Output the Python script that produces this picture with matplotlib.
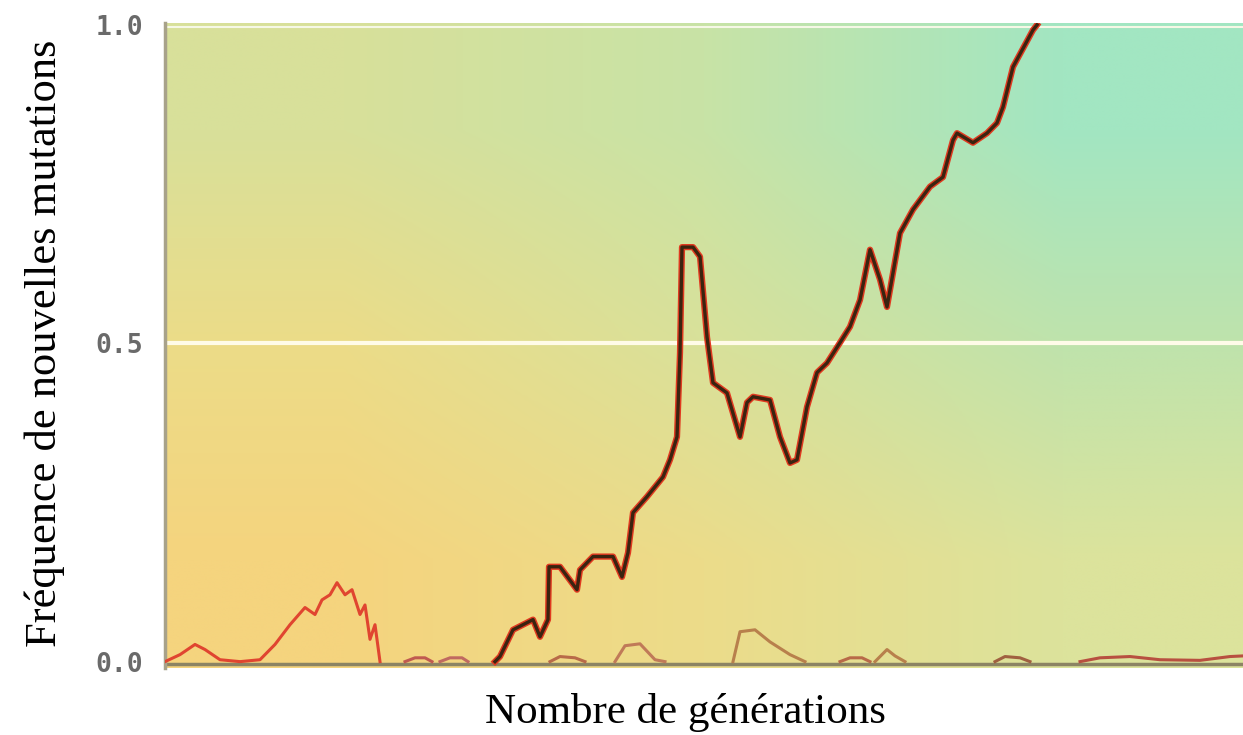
import numpy as np
import matplotlib.pyplot as plt
from matplotlib.colors import to_rgb

# Trajectoire qui se fixe (générations, fréquence)
gen_fix = [165, 167.5, 174, 184, 187.5, 191.5, 192, 197.5, 206, 207.5, 214, 224, 228.5, 231.5,
           234, 241, 249, 252.5, 256, 257.5, 258.5, 264, 267.5, 271, 274, 281, 287.5, 291, 294,
           302.5, 307.5, 312.5, 316, 321, 326, 331, 337.5, 342.5, 347.5, 352.5, 357.5, 361,
           367.5, 374, 382.5, 389, 394, 396, 404, 411, 416, 419, 424, 434, 436]
freq_fix = [0.0, 0.008, 0.050, 0.066, 0.039, 0.066, 0.149, 0.149, 0.113, 0.144, 0.165, 0.165,
            0.133, 0.171, 0.234, 0.259, 0.290, 0.317, 0.353, 0.485, 0.651, 0.651, 0.636, 0.510,
            0.438, 0.422, 0.353, 0.407, 0.416, 0.411, 0.353, 0.312, 0.317, 0.400, 0.454, 0.469,
            0.501, 0.526, 0.568, 0.647, 0.600, 0.557, 0.673, 0.710, 0.746, 0.761, 0.819, 0.830,
            0.815, 0.830, 0.846, 0.871, 0.934, 0.992, 1.0]

# Mutations perdues
gen_lost_a = [0, 7.5, 15, 20, 27.5, 37.5, 47.5, 55, 62.5, 70, 75, 78.5, 82.5, 86, 90, 93.5,
              97.5, 100, 102.5, 105, 107.5]
freq_lost_a = [0, 0.011, 0.027, 0.019, 0.003, 0, 0.003, 0.027, 0.058, 0.085, 0.074, 0.097,
               0.105, 0.124, 0.105, 0.113, 0.074, 0.089, 0.035, 0.058, 0]

gen_lost = [
    [120, 125, 130, 133.5],
    [137.5, 142.5, 148.5, 151.5],
    [192.5, 197.5, 205, 210],
    [225, 230, 237.5, 245, 250],
    [284, 287.5, 295, 302.5, 312.5, 320],
    [337.5, 342.5, 348.5, 352.5],
    [355, 361, 365, 370],
    [415, 420, 427.5, 432.5],
    [457.5, 467.5, 482.5, 497.5, 517.5, 532.5, 539],
]
freq_lost = [
    [0, 0.006, 0.006, 0],
    [0, 0.006, 0.006, 0],
    [0, 0.008, 0.006, 0],
    [0, 0.025, 0.028, 0.003, 0],
    [0, 0.047, 0.050, 0.031, 0.011, 0],
    [0, 0.006, 0.006, 0],
    [0, 0.019, 0.009, 0],
    [0, 0.008, 0.006, 0],
    [0, 0.006, 0.008, 0.003, 0.002, 0.008, 0.009],
]
lost_colors = ["#c05a50", "#c06a60", "#b86a48", "#c07a58", "#b8804c",
               "#b86a48", "#b8804c", "#a06040", "#b85040"]

y_ticks = [0.0, 0.5, 1.0]
y_ticklabels = ["0.0", "0.5", "1.0"]

fig = plt.figure(figsize=(12.43, 7.35), dpi=100)
ax = fig.add_axes([165 / 1243, 67 / 735, 1 - 165 / 1243, 645 / 735])

xmin, xmax = 0, 539
ymin, ymax = -0.01, 1.003

# fond en dégradé
grid = [["#d8e09a", "#c8e3a6", "#a2e6c2"],
        ["#ecdc88", "#d9e19a", "#bfe3ac"],
        ["#f5d47e", "#ecdc8a", "#dce39c"]]
img = np.array([[to_rgb(c) for c in row] for row in grid])
ax.imshow(img, extent=[xmin, xmax, ymin, ymax], aspect="auto",
          interpolation="bilinear", zorder=0)

ax.axhline(0.5, color="#fffbe8", lw=3, zorder=1)
ax.axhline(0.997, color="#f6f8e6", lw=1.5, zorder=1)
ax.axhline(-0.003, color="#8c8464", lw=2.5, zorder=2)

ax.plot(gen_lost_a, freq_lost_a, color="#e04530", lw=2.2, zorder=3)
for g, f, c in zip(gen_lost, freq_lost, lost_colors):
    ax.plot(g, f, color=c, lw=2.2, zorder=3)

ax.plot(gen_fix, freq_fix, color="#e03a20", lw=4.5, zorder=4)
ax.plot(gen_fix, freq_fix, color="#3a2410", lw=2.4, zorder=5)

ax.set_xlim(xmin, xmax)
ax.set_ylim(ymin, ymax)
ax.set_xticks([])
ax.set_yticks(y_ticks)
ax.set_yticklabels(y_ticklabels, family="DejaVu Sans Mono", fontsize=19,
                   color="#6a6a6a", fontweight="bold")
ax.tick_params(axis="y", length=0, pad=16)

for s in ["top", "right", "bottom"]:
    ax.spines[s].set_visible(False)
ax.spines["left"].set_color("#a8a28a")
ax.spines["left"].set_linewidth(2.5)

fig.text(685 / 1243, 1 - 712 / 735, "Nombre de générations", ha="center", va="center",
         family="Liberation Serif", fontsize=31)
fig.text(45 / 1243, 1 - 343 / 735, "Fréquence de nouvelles mutations", ha="center", va="center",
         rotation=90, family="Liberation Serif", fontsize=32)

fig.savefig("out.png", dpi=100)
